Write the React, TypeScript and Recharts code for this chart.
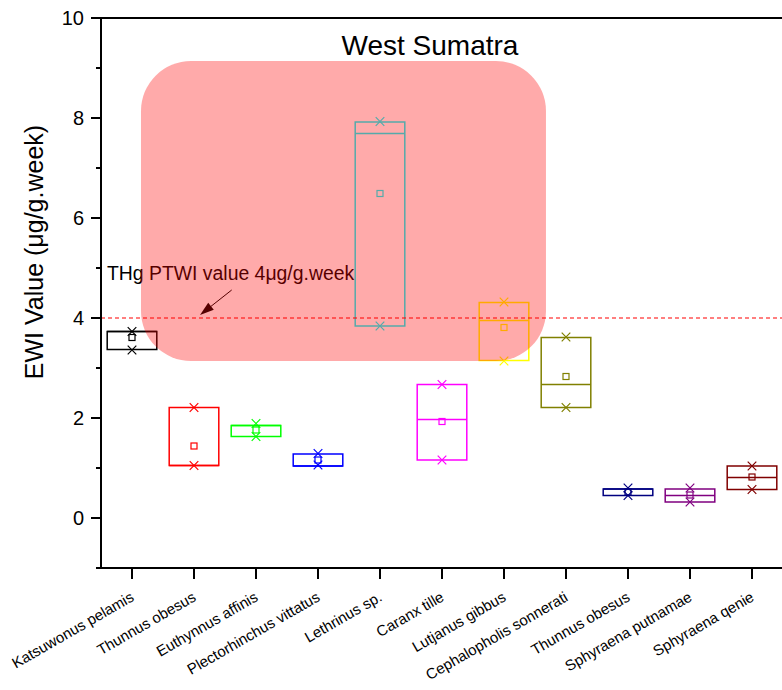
import React from 'react';
import {
  ComposedChart,
  XAxis,
  YAxis,
  Scatter,
  ReferenceArea,
  ReferenceLine,
  ReferenceDot
} from 'recharts';

// EWI per species, West Sumatra
const species = [
  'Katsuwonus pelamis',
  'Thunnus obesus',
  'Euthynnus affinis',
  'Plectorhinchus vittatus',
  'Lethrinus sp.',
  'Caranx tille',
  'Lutjanus gibbus',
  'Cephalopholis sonnerati',
  'Thunnus obesus',
  'Sphyraena putnamae',
  'Sphyraena qenie'
];
const colors = ['#000000', '#ff0000', '#00ff00', '#0000ff', '#00ffff', '#ff00ff', '#ffff00', '#808000', '#000080', '#800080', '#800000'];
const boxTop = [3.73, 2.21, 1.85, 1.28, 7.92, 2.67, 4.31, 3.61, 0.58, 0.58, 1.04];
const boxBottom = [3.37, 1.05, 1.63, 1.04, 3.84, 1.16, 3.15, 2.21, 0.45, 0.32, 0.57];
const medians = [3.73, 1.05, 1.85, 1.04, 7.69, 1.97, 3.95, 2.67, 0.58, 0.45, 0.81];
const means = [3.61, 1.44, 1.76, 1.16, 6.49, 1.93, 3.81, 2.83, 0.52, 0.46, 0.82];
const maxima = [3.73, 2.21, 1.89, 1.29, 7.93, 2.67, 4.32, 3.62, 0.6, 0.6, 1.04];
const minima = [3.36, 1.05, 1.63, 1.06, 3.84, 1.16, 3.14, 2.21, 0.45, 0.32, 0.57];

const ptwi = 4;
const yTicks = [-1, 0, 1, 2, 3, 4, 5, 6, 7, 8, 9, 10];
const xTicks = species.map((_, i) => i);

const rows = species.map((name, i) => ({
  x: i,
  name,
  color: colors[i],
  top: boxTop[i],
  bottom: boxBottom[i],
  median: medians[i],
  mean: means[i],
  max: maxima[i],
  min: minima[i]
}));

const FONT = 'Arial, "Liberation Sans", sans-serif';
const HALF = 0.4;

const XMark = (props: any) => {
  const { cx, cy, payload } = props;
  const s = 4.3;
  return (
    <path
      d={`M${cx - s},${cy - s}L${cx + s},${cy + s}M${cx - s},${cy + s}L${cx + s},${cy - s}`}
      stroke={payload.color}
      strokeWidth={1.2}
      fill="none"
    />
  );
};

const MeanMark = (props: any) => {
  const { cx, cy, payload } = props;
  return <rect x={cx - 3} y={cy - 3} width={6} height={6} fill="none" stroke={payload.color} strokeWidth={1.2} />;
};

const YTick = (props: any) => {
  const { x, y, payload } = props;
  const v = payload.value;
  const major = v >= 0 && v % 2 === 0;
  return (
    <g>
      <line x1={x - (major ? 10 : 5)} x2={x} y1={y} y2={y} stroke="#000" strokeWidth={2} />
      {major && (
        <text x={x - 17} y={y} dy="0.35em" textAnchor="end" fontSize={20} fontFamily={FONT} fill="#000">
          {v}
        </text>
      )}
    </g>
  );
};

const XTick = (props: any) => {
  const { x, y, payload } = props;
  const tx = x + 3;
  const ty = y + 32;
  return (
    <g>
      <line x1={x} x2={x} y1={y} y2={y + 11} stroke="#000" strokeWidth={2} />
      <text x={tx} y={ty} textAnchor="end" fontSize={15} fontFamily={FONT} fill="#000" transform={`rotate(-30, ${tx}, ${ty})`}>
        {species[payload.value]}
      </text>
    </g>
  );
};

const Arrow = (props: any) => {
  const { x1, y1, x2, y2 } = props;
  const ang = Math.atan2(y2 - y1, x2 - x1);
  const len = 14;
  const w = 4.5;
  const bx = x2 - len * Math.cos(ang);
  const by = y2 - len * Math.sin(ang);
  const px = -Math.sin(ang) * w;
  const py = Math.cos(ang) * w;
  return (
    <g>
      <line x1={x1} y1={y1} x2={bx} y2={by} stroke="#000" strokeWidth={1} />
      <polygon points={`${x2},${y2} ${bx + px},${by + py} ${bx - px},${by - py}`} fill="#000" />
    </g>
  );
};

const NoteText = (props: any) => (
  <text x={props.cx} y={props.cy} fontSize={19.4} fontFamily={FONT} fill="#000">
    THg PTWI value 4μg/g.week
  </text>
);

const TitleText = (props: any) => (
  <text x={props.cx} y={props.cy} textAnchor="middle" fontSize={28} fontFamily={FONT} fill="#000">
    West Sumatra
  </text>
);

// translucent red panel laid over the marks
const Panel = (props: any) => {
  const { x, y, width, height } = props;
  return <rect x={x} y={y} width={width} height={height} rx={50} ry={50} fill="rgba(255,0,0,0.333)" />;
};

const YLabel = () => (
  <text x={43} y={252} textAnchor="middle" fontSize={25} fontFamily={FONT} fill="#000" transform="rotate(-90, 43, 252)">
    EWI Value (μg/g.week)
  </text>
);

export default function App() {
  return (
    <div style={{ position: 'absolute', left: 0, top: 0, width: 782, height: 690, overflow: 'hidden', background: '#fff' }}>
      <ComposedChart width={784} height={690} data={rows} margin={{ top: 18, right: 1, bottom: 0, left: 0 }}>
        <XAxis
          dataKey="x"
          type="number"
          domain={[-0.5, 10.5]}
          ticks={xTicks}
          interval={0}
          height={122}
          tickSize={0}
          tickMargin={0}
          tickLine={false}
          axisLine={{ stroke: '#000', strokeWidth: 2 }}
          tick={<XTick />}
        />
        <YAxis
          type="number"
          domain={[-1, 10]}
          ticks={yTicks}
          interval={0}
          width={101}
          tickSize={0}
          tickMargin={0}
          tickLine={false}
          axisLine={{ stroke: '#000', strokeWidth: 2 }}
          tick={<YTick />}
          label={{ content: () => <YLabel /> }}
        />
        <ReferenceLine y={10} stroke="#000" strokeWidth={2} ifOverflow="visible" />
        <ReferenceLine y={ptwi} stroke="#ff0000" strokeWidth={1.2} strokeDasharray="4 3" />

        {rows.map((r) => (
          <ReferenceArea
            key={`box-${r.x}`}
            x1={r.x - HALF}
            x2={r.x + HALF}
            y1={r.bottom}
            y2={r.top}
            fill="none"
            fillOpacity={0}
            stroke={r.color}
            strokeWidth={1.5}
            ifOverflow="visible"
          />
        ))}
        {rows.map((r) => (
          <ReferenceLine
            key={`med-${r.x}`}
            segment={[
              { x: r.x - HALF, y: r.median },
              { x: r.x + HALF, y: r.median }
            ]}
            stroke={r.color}
            strokeWidth={1.5}
            ifOverflow="visible"
          />
        ))}

        <Scatter dataKey="max" shape={XMark} isAnimationActive={false} />
        <Scatter dataKey="min" shape={XMark} isAnimationActive={false} />
        <Scatter dataKey="mean" shape={MeanMark} isAnimationActive={false} />

        <ReferenceLine
          segment={[
            { x: 1.608, y: 4.56 },
            { x: 1.097, y: 4.06 }
          ]}
          shape={Arrow}
          ifOverflow="visible"
        />
        <ReferenceDot x={-0.403} y={4.76} r={0} shape={NoteText} ifOverflow="visible" />
        <ReferenceDot x={4.806} y={9.26} r={0} shape={TitleText} ifOverflow="visible" />

        <ReferenceArea x1={0.145} x2={6.677} y1={3.14} y2={9.14} shape={Panel} ifOverflow="visible" zIndex={1500} />
      </ComposedChart>
    </div>
  );
}
